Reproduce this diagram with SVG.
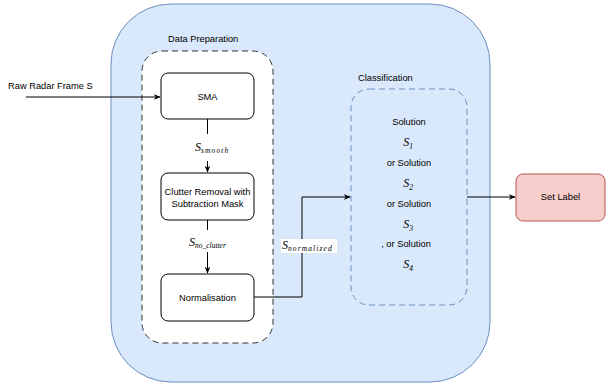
<svg xmlns="http://www.w3.org/2000/svg" width="606" height="388" viewBox="0 0 606 388">
<defs>
<marker id="ah" viewBox="0 0 10 10" refX="9" refY="5" markerWidth="7" markerHeight="7" orient="auto" markerUnits="userSpaceOnUse">
<path d="M0,1 L10,5 L0,9 L3,5 Z" fill="#000"/>
</marker>
<style>
text{font-family:"Liberation Sans",Arial,sans-serif;font-size:9.3px;fill:#000}
.c{text-anchor:middle}
.box{fill:#fff;stroke:#000;stroke-width:1}
.m{font-family:"Liberation Serif","Times New Roman",serif;font-style:italic;font-size:12px}
.sub{font-size:7.5px}
.sp{letter-spacing:1.1px}
.ln{fill:none;stroke:#000;stroke-width:1}
</style>
</defs>
<g id="outer">
<rect x="111" y="4" width="379" height="378" rx="60" fill="#dae8fc" stroke="#6c8ebf"/>
</g>
<g id="dataprep">
<rect x="142" y="51" width="131" height="292" rx="20" fill="#fff" stroke="#333" stroke-dasharray="6 4"/>
<text x="168" y="41.5">Data Preparation</text>
</g>
<g id="classification">
<rect x="351" y="89" width="116" height="216" rx="18" fill="none" stroke="#6c8ebf" stroke-dasharray="6 4"/>
<text x="358" y="80.5">Classification</text>
<text class="c" x="409" y="124.5">Solution</text>
<text class="c m" x="408" y="146">S<tspan class="sub" dy="2.5">1</tspan></text>
<text class="c" x="409" y="165.5">or Solution</text>
<text class="c m" x="408" y="187">S<tspan class="sub" dy="2.5">2</tspan></text>
<text class="c" x="409" y="206.5">or Solution</text>
<text class="c m" x="408" y="228">S<tspan class="sub" dy="2.5">3</tspan></text>
<text class="c" x="406" y="246.5">, or Solution</text>
<text class="c m" x="408" y="268">S<tspan class="sub" dy="2.5">4</tspan></text>
</g>
<g id="sma">
<rect class="box" x="161" y="73" width="93" height="46" rx="7"/>
<text class="c" x="207.5" y="100">SMA</text>
</g>
<g id="clutter">
<rect class="box" x="161" y="173" width="93" height="47" rx="7"/>
<text class="c" x="207.5" y="195">Clutter Removal with</text>
<text class="c" x="207.5" y="207">Subtraction Mask</text>
</g>
<g id="normalisation">
<rect class="box" x="161" y="274" width="93" height="47" rx="7"/>
<text class="c" x="207.5" y="300.5">Normalisation</text>
</g>
<g id="setlabel">
<rect x="516" y="174" width="89" height="47" rx="7" fill="#f8cecc" stroke="#b85450"/>
<text class="c" x="560.5" y="200">Set Label</text>
</g>
<g id="input">
<text x="8" y="88.5">Raw Radar Frame S</text>
</g>
<g id="connectors">
<path class="ln" d="M26,97 H160" marker-end="url(#ah)"/>
<path class="ln" d="M207.5,119 V134"/>
<path class="ln" d="M207.5,161 V172" marker-end="url(#ah)"/>
<text class="m" x="195" y="151">S<tspan class="sub sp" dy="2">smooth</tspan></text>
<path class="ln" d="M207.5,220 V230"/>
<path class="ln" d="M207.5,252 V273" marker-end="url(#ah)"/>
<text class="m" x="189" y="246">S<tspan class="sub" dy="2">no_clutter</tspan></text>
<path class="ln" d="M254,297 H302 V197 H350" marker-end="url(#ah)"/>
<rect x="281" y="239" width="56" height="14" fill="#fff"/>
<text class="m" x="282" y="249">S<tspan class="sub sp" dy="2">normalized</tspan></text>
<path class="ln" d="M467,197 H515" marker-end="url(#ah)"/>
</g>
</svg>
